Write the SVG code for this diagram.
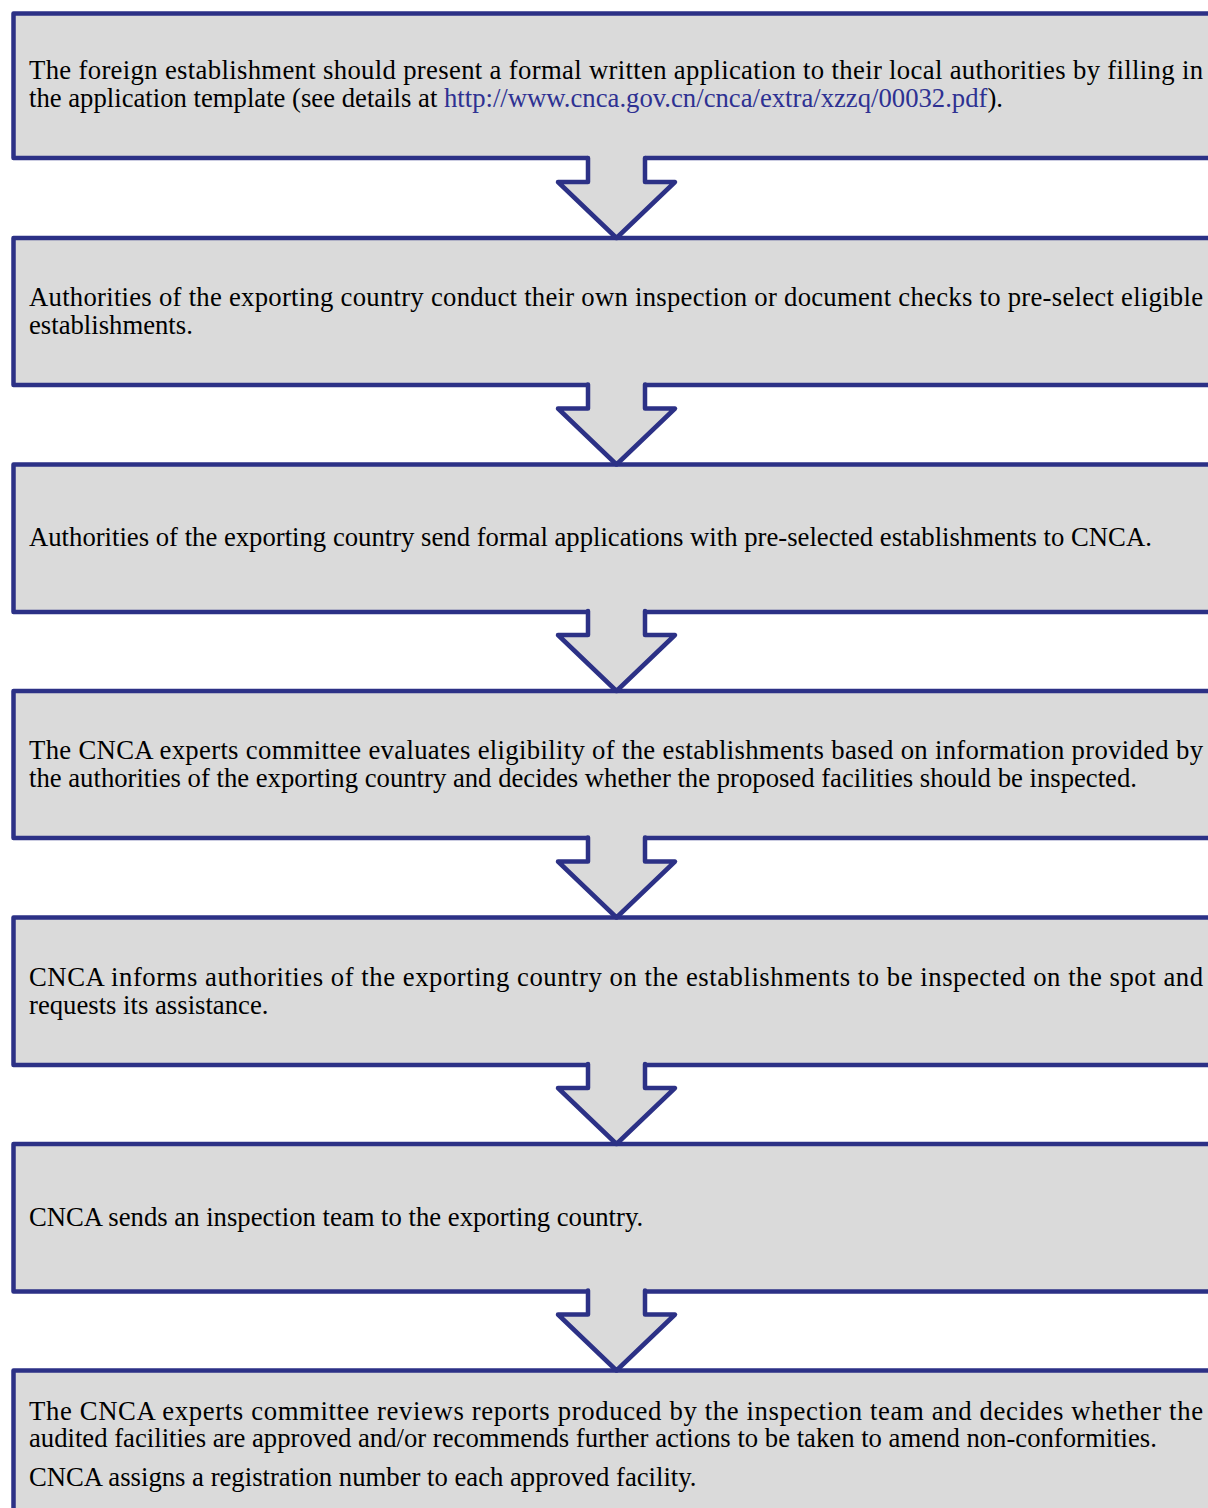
<svg xmlns="http://www.w3.org/2000/svg" width="1208" height="1508" viewBox="0 0 1208 1508">
<style>
.box{fill:#DADADA;stroke:#2C3186;stroke-width:4.5;stroke-linejoin:round}
.af{fill:#DADADA;stroke:none}
.as{fill:none;stroke:#2C3186;stroke-width:4.5;stroke-linejoin:round;stroke-linecap:round}
text{font-family:"Liberation Serif","Times New Roman",serif;font-size:26.7px;fill:#000}
.link{fill:#2E3192}
</style>
<rect width="1208" height="1508" fill="#FFFFFF"/>
<g id="step1">
<rect class="box" x="13.5" y="13.5" width="1230" height="144.5"/>
<text x="29" y="79" textLength="1174" lengthAdjust="spacing">The foreign establishment should present a formal written application to their local authorities by filling in</text>
<text x="29" y="107">the application template (see details at <tspan class="link">http://www.cnca.gov.cn/cnca/extra/xzzq/00032.pdf</tspan>).</text>
</g>
<g id="step2">
<rect class="box" x="13.5" y="238" width="1230" height="147"/>
<text x="29" y="306" textLength="1174" lengthAdjust="spacing">Authorities of the exporting country conduct their own inspection or document checks to pre-select eligible</text>
<text x="29" y="334">establishments.</text>
</g>
<g id="step3">
<rect class="box" x="13.5" y="464.5" width="1230" height="147.5"/>
<text x="29" y="546">Authorities of the exporting country send formal applications with pre-selected establishments to CNCA.</text>
</g>
<g id="step4">
<rect class="box" x="13.5" y="691" width="1230" height="147"/>
<text x="29" y="759" textLength="1174" lengthAdjust="spacing">The CNCA experts committee evaluates eligibility of the establishments based on information provided by</text>
<text x="29" y="787">the authorities of the exporting country and decides whether the proposed facilities should be inspected.</text>
</g>
<g id="step5">
<rect class="box" x="13.5" y="917.5" width="1230" height="147.5"/>
<text x="29" y="986" textLength="1174" lengthAdjust="spacing">CNCA informs authorities of the exporting country on the establishments to be inspected on the spot and</text>
<text x="29" y="1014">requests its assistance.</text>
</g>
<g id="step6">
<rect class="box" x="13.5" y="1144" width="1230" height="147.5"/>
<text x="29" y="1226">CNCA sends an inspection team to the exporting country.</text>
</g>
<g id="step7">
<rect class="box" x="13.5" y="1370.5" width="1230" height="160"/>
<text x="29" y="1420" textLength="1174" lengthAdjust="spacing">The CNCA experts committee reviews reports produced by the inspection team and decides whether the</text>
<text x="29" y="1447">audited facilities are approved and/or recommends further actions to be taken to amend non-conformities.</text>
<text x="29" y="1486">CNCA assigns a registration number to each approved facility.</text>
</g>
<g id="connectors">
<g transform="translate(0,0)">
<polygon class="af" points="588,154 588,182 558,182 616.5,238 675,182 645,182 645,154"/>
<polyline class="as" points="588,158 588,182 558,182 616.5,238 675,182 645,182 645,158"/>
</g>
<g transform="translate(0,226.5)">
<polygon class="af" points="588,154 588,182 558,182 616.5,238 675,182 645,182 645,154"/>
<polyline class="as" points="588,158 588,182 558,182 616.5,238 675,182 645,182 645,158"/>
</g>
<g transform="translate(0,453)">
<polygon class="af" points="588,154 588,182 558,182 616.5,238 675,182 645,182 645,154"/>
<polyline class="as" points="588,158 588,182 558,182 616.5,238 675,182 645,182 645,158"/>
</g>
<g transform="translate(0,679.5)">
<polygon class="af" points="588,154 588,182 558,182 616.5,238 675,182 645,182 645,154"/>
<polyline class="as" points="588,158 588,182 558,182 616.5,238 675,182 645,182 645,158"/>
</g>
<g transform="translate(0,906)">
<polygon class="af" points="588,154 588,182 558,182 616.5,238 675,182 645,182 645,154"/>
<polyline class="as" points="588,158 588,182 558,182 616.5,238 675,182 645,182 645,158"/>
</g>
<g transform="translate(0,1132.5)">
<polygon class="af" points="588,154 588,182 558,182 616.5,238 675,182 645,182 645,154"/>
<polyline class="as" points="588,158 588,182 558,182 616.5,238 675,182 645,182 645,158"/>
</g>
</g>
</svg>
